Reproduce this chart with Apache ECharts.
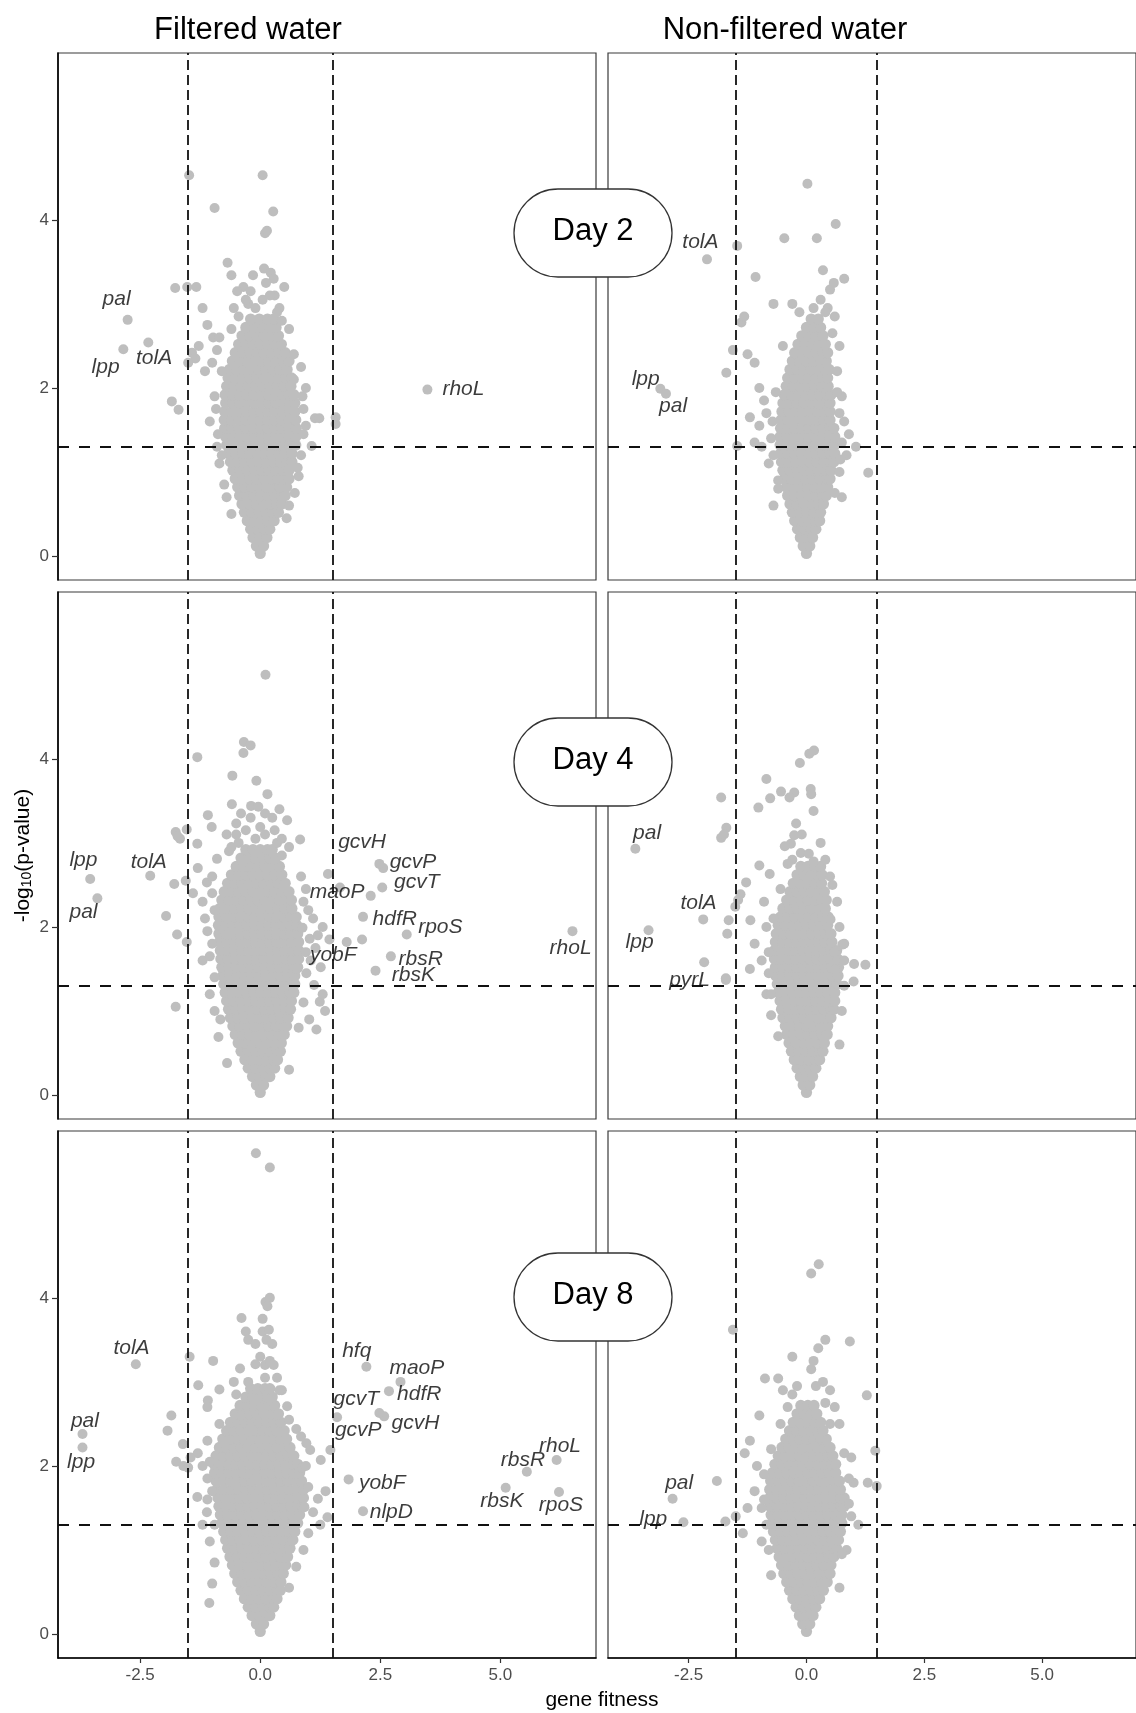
<!DOCTYPE html>
<html>
<head>
<meta charset="utf-8">
<title>gene fitness volcano plots</title>
<script src="https://cdn.jsdelivr.net/npm/echarts/dist/echarts.min.js"></script>
<style>
  html, body { margin: 0; padding: 0; background: #fff; }
  #main { width: 1136px; height: 1713px; }
</style>
</head>
<body>
<div id="main"></div>
<script>
// ---- data ----
const xTicks = [-2.5, 0, 2.5, 5];
const yTicks = [0, 2, 4];
const fitnessCut = 1.5;
const pCut = 1.301; // -log10(0.05)
const colTitles = ['Filtered water', 'Non-filtered water'];
const dayLabels = ['Day 2', 'Day 4', 'Day 8'];

// dense cloud, one row per -log10(p) level: [y, x, x, ...]
const f2Core = [
  [0.03, 0], [0.12, -0.08, 0.07], [0.22, -0.15, 0, 0.14], [0.32, -0.2, -0.06, 0.08, 0.2],
  [0.42, -0.27, -0.12, 0.02, 0.16, 0.29], [0.52, -0.33, -0.18, -0.03, 0.12, 0.26, 0.38],
  [0.62, -0.38, -0.23, -0.08, 0.07, 0.21, 0.35, 0.45], [0.72, -0.43, -0.28, -0.13, 0.02, 0.16, 0.3, 0.44, 0.52],
  [0.82, -0.47, -0.32, -0.17, -0.02, 0.13, 0.27, 0.41, 0.55], [0.92, -0.52, -0.37, -0.22, -0.07, 0.08, 0.23, 0.37, 0.5, 0.6],
  [1.02, -0.57, -0.42, -0.27, -0.12, 0.03, 0.18, 0.32, 0.46, 0.6], [1.12, -0.62, -0.47, -0.32, -0.17, -0.02, 0.13, 0.28, 0.42, 0.56, 0.66],
  [1.22, -0.66, -0.51, -0.36, -0.21, -0.06, 0.09, 0.24, 0.38, 0.52, 0.66], [1.32, -0.7, -0.55, -0.4, -0.25, -0.1, 0.05, 0.2, 0.34, 0.48, 0.62, 0.74],
  [1.42, -0.72, -0.57, -0.42, -0.27, -0.12, 0.03, 0.18, 0.32, 0.46, 0.6, 0.74], [1.52, -0.74, -0.59, -0.44, -0.29, -0.14, 0.01, 0.16, 0.3, 0.45, 0.6, 0.75],
  [1.62, -0.75, -0.6, -0.45, -0.3, -0.15, 0, 0.15, 0.3, 0.45, 0.6, 0.74], [1.72, -0.74, -0.59, -0.44, -0.29, -0.14, 0.01, 0.16, 0.31, 0.46, 0.61, 0.72],
  [1.82, -0.72, -0.57, -0.42, -0.27, -0.12, 0.03, 0.18, 0.33, 0.48, 0.62, 0.72], [1.92, -0.73, -0.58, -0.43, -0.28, -0.13, 0.02, 0.17, 0.32, 0.47, 0.6, 0.7],
  [2.02, -0.7, -0.55, -0.4, -0.25, -0.1, 0.05, 0.2, 0.35, 0.5, 0.64], [2.12, -0.67, -0.52, -0.37, -0.22, -0.07, 0.08, 0.23, 0.38, 0.53, 0.65],
  [2.22, -0.64, -0.49, -0.34, -0.19, -0.04, 0.11, 0.26, 0.41, 0.56], [2.32, -0.58, -0.43, -0.28, -0.13, 0.02, 0.17, 0.32, 0.47, 0.6],
  [2.42, -0.52, -0.37, -0.22, -0.07, 0.08, 0.23, 0.38, 0.52], [2.52, -0.45, -0.3, -0.15, 0, 0.15, 0.3, 0.44],
  [2.62, -0.38, -0.22, -0.07, 0.08, 0.23, 0.38], [2.72, -0.3, -0.12, 0.05, 0.2, 0.33], [2.82, -0.2, -0.02, 0.15, 0.28]
];
const f2Extra = [
  [-1.48, 4.53], [0.05, 4.53], [-0.95, 4.14], [0.27, 4.1], [0.1, 3.84], [0.14, 3.87], [-0.68, 3.49], [-0.6, 3.34],
  [-0.15, 3.34], [0.08, 3.42], [0.22, 3.37], [0.28, 3.3], [0.12, 3.25], [-0.35, 3.2], [-0.48, 3.15], [0.3, 3.1],
  [0.05, 3.05], [-0.25, 3.0], [-0.55, 2.95], [0.4, 2.95], [-1.77, 3.19], [-1.52, 3.2], [-1.33, 3.2], [-1.2, 2.95],
  [-1.1, 2.75], [-0.98, 2.6], [-1.42, 2.42], [-1.35, 2.35], [-1.28, 2.5], [-1.5, 2.3], [-1.15, 2.2], [-1.0, 2.3],
  [-0.9, 2.45], [-1.84, 1.84], [-1.7, 1.74], [-0.95, 1.9], [-1.05, 1.6], [-0.9, 1.3], [-0.85, 1.1], [1.14, 1.64],
  [1.23, 1.64], [1.57, 1.65], [1.57, 1.57], [1.07, 1.31], [0.9, 1.45], [0.85, 1.2], [0.8, 0.95], [0.72, 0.75],
  [0.9, 1.75], [0.95, 2.0], [0.7, 2.4], [0.6, 2.7], [-0.75, 0.85], [-0.6, 0.5], [0.55, 0.45],
  [-0.85, 2.6], [-0.8, 2.2], [-0.92, 1.75], [-0.88, 1.45], [-0.8, 1.2], [0.85, 2.25], [0.88, 1.9], [0.95, 1.55],
  [0.78, 1.05], [-0.7, 0.7], [0.6, 0.6], [-0.45, 2.85], [0.45, 2.8], [-0.3, 3.05], [0.2, 3.1], [-0.1, 2.95],
  [0.5, 3.2], [-0.6, 2.7], [0.7, 2.1], [-0.2, 3.15], [0.35, 2.9]
];
// [gene, x, y, labelX, labelY]
const f2Genes = [
  ['pal', -2.76, 2.81, -2.99, 3.06], ['lpp', -2.85, 2.46, -3.22, 2.25],
  ['tolA', -2.33, 2.54, -2.21, 2.35], ['rhoL', 3.48, 1.98, 4.23, 1.98]
];

const n2Core = [
  [0.03, 0], [0.12, -0.07, 0.07], [0.22, -0.13, 0, 0.13], [0.32, -0.19, -0.05, 0.09, 0.2],
  [0.42, -0.25, -0.1, 0.05, 0.2, 0.28], [0.52, -0.3, -0.15, 0, 0.15, 0.3], [0.62, -0.35, -0.2, -0.05, 0.1, 0.25, 0.36],
  [0.72, -0.4, -0.25, -0.1, 0.05, 0.2, 0.35, 0.42], [0.82, -0.43, -0.28, -0.13, 0.02, 0.17, 0.32, 0.45],
  [0.92, -0.47, -0.32, -0.17, -0.02, 0.13, 0.28, 0.43, 0.5], [1.02, -0.5, -0.35, -0.2, -0.05, 0.1, 0.25, 0.4, 0.52],
  [1.12, -0.53, -0.38, -0.23, -0.08, 0.07, 0.22, 0.37, 0.52, 0.58], [1.22, -0.55, -0.4, -0.25, -0.1, 0.05, 0.2, 0.35, 0.5, 0.6],
  [1.32, -0.56, -0.41, -0.26, -0.11, 0.04, 0.19, 0.34, 0.49, 0.6], [1.42, -0.56, -0.41, -0.26, -0.11, 0.04, 0.19, 0.34, 0.49, 0.6],
  [1.52, -0.55, -0.4, -0.25, -0.1, 0.05, 0.2, 0.35, 0.5, 0.58], [1.62, -0.54, -0.39, -0.24, -0.09, 0.06, 0.21, 0.36, 0.5],
  [1.72, -0.52, -0.37, -0.22, -0.07, 0.08, 0.23, 0.38, 0.5], [1.82, -0.5, -0.35, -0.2, -0.05, 0.1, 0.25, 0.4, 0.5],
  [1.92, -0.47, -0.32, -0.17, -0.02, 0.13, 0.28, 0.43, 0.52], [2.02, -0.43, -0.28, -0.13, 0.02, 0.17, 0.32, 0.46],
  [2.12, -0.4, -0.25, -0.1, 0.05, 0.2, 0.35, 0.45], [2.22, -0.35, -0.2, -0.05, 0.1, 0.25, 0.4, 0.48],
  [2.32, -0.3, -0.15, 0, 0.15, 0.3, 0.42], [2.42, -0.25, -0.1, 0.05, 0.2, 0.35, 0.45],
  [2.52, -0.18, -0.03, 0.12, 0.27, 0.4], [2.62, -0.1, 0.05, 0.2, 0.35], [2.72, 0, 0.15, 0.3], [2.82, 0.1, 0.25]
];
const n2Extra = [
  [0.02, 4.43], [0.22, 3.78], [0.62, 3.95], [0.5, 3.17], [0.58, 3.25], [-0.47, 3.78], [-1.08, 3.32], [-1.47, 3.69],
  [0.8, 3.3], [-0.7, 3.0], [-0.3, 3.0], [0.45, 2.95], [0.6, 2.85], [0.3, 3.05], [-1.7, 2.18], [-1.56, 2.45],
  [-1.38, 2.78], [-1.32, 2.85], [-1.25, 2.4], [-1.1, 2.3], [-1.0, 2.0], [-0.9, 1.85], [-0.85, 1.7], [-1.0, 1.55],
  [-1.2, 1.65], [-0.95, 1.3], [-0.8, 1.1], [-1.47, 1.31], [0.75, 1.9], [0.8, 1.6], [0.9, 1.45], [0.85, 1.2],
  [0.7, 1.0], [1.31, 0.99], [0.75, 0.7], [-0.7, 0.6], [-0.6, 0.9], [0.65, 2.2], [0.7, 2.5],
  [-0.75, 1.4], [-0.7, 1.2], [-0.72, 1.6], [0.75, 1.35], [0.72, 1.15], [0.7, 1.7], [-0.65, 1.95], [0.65, 1.95],
  [-1.1, 1.35], [1.05, 1.3], [-0.5, 2.5], [0.55, 2.65], [0.4, 2.9], [-0.15, 2.9], [0.15, 2.95], [0.35, 3.4],
  [-0.6, 0.8], [0.6, 0.75]
];
const n2Genes = [
  ['tolA', -2.11, 3.53, -2.25, 3.73], ['lpp', -3.1, 1.99, -3.41, 2.1], ['pal', -2.98, 1.93, -2.83, 1.78]
];

const f4Core = [
  [0.03, 0], [0.12, -0.08, 0.07], [0.22, -0.16, -0.02, 0.12, 0.2], [0.32, -0.25, -0.1, 0.05, 0.2, 0.3],
  [0.42, -0.32, -0.17, -0.02, 0.13, 0.28, 0.36], [0.52, -0.4, -0.25, -0.1, 0.05, 0.2, 0.35, 0.42],
  [0.62, -0.46, -0.31, -0.16, -0.01, 0.14, 0.29, 0.44], [0.72, -0.52, -0.37, -0.22, -0.07, 0.08, 0.23, 0.38, 0.5],
  [0.82, -0.57, -0.42, -0.27, -0.12, 0.03, 0.18, 0.33, 0.48, 0.55], [0.92, -0.62, -0.47, -0.32, -0.17, -0.02, 0.13, 0.28, 0.43, 0.58],
  [1.02, -0.66, -0.51, -0.36, -0.21, -0.06, 0.09, 0.24, 0.39, 0.54, 0.63], [1.12, -0.7, -0.55, -0.4, -0.25, -0.1, 0.05, 0.2, 0.35, 0.5, 0.65],
  [1.22, -0.73, -0.58, -0.43, -0.28, -0.13, 0.02, 0.17, 0.32, 0.47, 0.62, 0.7], [1.32, -0.76, -0.61, -0.46, -0.31, -0.16, -0.01, 0.14, 0.29, 0.44, 0.59, 0.72],
  [1.42, -0.78, -0.63, -0.48, -0.33, -0.18, -0.03, 0.12, 0.27, 0.42, 0.57, 0.72],
  [1.52, -0.8, -0.65, -0.5, -0.35, -0.2, -0.05, 0.1, 0.25, 0.4, 0.55, 0.7, 0.78],
  [1.62, -0.82, -0.67, -0.52, -0.37, -0.22, -0.07, 0.08, 0.23, 0.38, 0.53, 0.68, 0.8],
  [1.72, -0.83, -0.68, -0.53, -0.38, -0.23, -0.08, 0.07, 0.22, 0.37, 0.52, 0.67, 0.8],
  [1.82, -0.85, -0.7, -0.55, -0.4, -0.25, -0.1, 0.05, 0.2, 0.35, 0.5, 0.65, 0.8],
  [1.92, -0.86, -0.71, -0.56, -0.41, -0.26, -0.11, 0.04, 0.19, 0.34, 0.49, 0.64, 0.78],
  [2.02, -0.87, -0.72, -0.57, -0.42, -0.27, -0.12, 0.03, 0.18, 0.33, 0.48, 0.63, 0.76],
  [2.12, -0.86, -0.71, -0.56, -0.41, -0.26, -0.11, 0.04, 0.19, 0.34, 0.49, 0.64, 0.75],
  [2.22, -0.84, -0.69, -0.54, -0.39, -0.24, -0.09, 0.06, 0.21, 0.36, 0.51, 0.66],
  [2.32, -0.8, -0.65, -0.5, -0.35, -0.2, -0.05, 0.1, 0.25, 0.4, 0.55, 0.65],
  [2.42, -0.75, -0.6, -0.45, -0.3, -0.15, 0, 0.15, 0.3, 0.45, 0.6], [2.52, -0.68, -0.53, -0.38, -0.23, -0.08, 0.07, 0.22, 0.37, 0.52],
  [2.62, -0.6, -0.45, -0.3, -0.15, 0, 0.15, 0.3, 0.45], [2.72, -0.5, -0.35, -0.2, -0.05, 0.1, 0.25, 0.4],
  [2.82, -0.4, -0.25, -0.1, 0.05, 0.2, 0.32], [2.92, -0.3, -0.15, 0, 0.15, 0.25]
];
const f4Extra = [
  [0.11, 5.0], [-0.34, 4.2], [-0.2, 4.16], [-0.35, 4.07], [-1.31, 4.02], [-0.58, 3.8], [-0.08, 3.74], [0.15, 3.58],
  [-0.59, 3.46], [-0.19, 3.44], [-0.04, 3.43], [0.56, 3.27], [-0.5, 3.23], [0.0, 3.19], [0.83, 3.04], [0.25, 3.3],
  [-1.76, 3.13], [-1.67, 3.05], [-1.53, 3.16], [-1.31, 2.99], [-1.09, 3.33], [-1.01, 3.19], [-1.72, 3.08], [-0.9, 2.81],
  [-1.79, 2.51], [-1.96, 2.13], [-1.73, 1.91], [-1.53, 1.82], [-1.76, 1.05], [-1.11, 2.53], [-1.55, 2.55], [-1.2, 2.3],
  [-1.4, 2.4], [-1.3, 2.7], [-1.0, 2.6], [-1.15, 2.1], [-1.0, 1.8], [-1.2, 1.6], [-0.95, 1.4], [-1.05, 1.2],
  [-0.95, 1.0], [-0.69, 0.38], [-0.87, 0.69], [-0.83, 0.9], [1.24, 1.11], [1.17, 0.78], [1.02, 0.9], [1.26, 1.52],
  [1.12, 1.31], [0.96, 1.45], [0.76, 1.5], [1.03, 1.86], [0.88, 1.99], [0.95, 1.7], [0.9, 1.1], [0.8, 0.8],
  [0.6, 0.3], [0.9, 2.3], [1.0, 2.2], [0.85, 2.6], [-0.45, 3.0], [0.35, 3.0], [0.45, 2.85], [-0.65, 2.9],
  [2.56, 2.7], [1.66, 2.47], [1.8, 1.82], [2.12, 1.85],
  [-0.5, 3.1], [-0.3, 3.15], [-0.1, 3.05], [0.1, 3.1], [0.3, 3.15], [0.45, 3.05], [-0.6, 2.95], [0.6, 2.95],
  [-0.2, 3.3], [0.1, 3.35], [-0.4, 3.35], [0.4, 3.4], [-0.7, 3.1], [1.1, 2.1], [1.2, 1.9], [1.3, 2.0],
  [0.95, 2.45], [1.05, 1.6], [1.15, 1.75], [1.3, 1.2], [1.35, 1.0], [-1.0, 2.4], [-0.95, 2.2], [-1.1, 1.95], [-1.05, 1.65]
];
const f4Genes = [
  ['lpp', -3.54, 2.57, -3.68, 2.8], ['pal', -3.39, 2.34, -3.68, 2.18], ['tolA', -2.29, 2.61, -2.32, 2.77],
  ['gcvH', 1.41, 2.63, 2.12, 3.01], ['gcvP', 2.48, 2.75, 3.18, 2.77], ['gcvT', 2.54, 2.47, 3.26, 2.53],
  ['maoP', 2.3, 2.37, 1.6, 2.41], ['hdfR', 2.14, 2.12, 2.8, 2.09], ['rpoS', 3.05, 1.91, 3.75, 2.0],
  ['yobF', 1.44, 1.85, 1.52, 1.66], ['rbsR', 2.72, 1.65, 3.34, 1.62], ['rbsK', 2.4, 1.48, 3.19, 1.43],
  ['rhoL', 6.5, 1.95, 6.46, 1.75]
];

const n4Core = [
  [0.03, 0], [0.12, -0.07, 0.07], [0.22, -0.13, 0, 0.13], [0.32, -0.2, -0.06, 0.08, 0.2],
  [0.42, -0.26, -0.11, 0.04, 0.19, 0.28], [0.52, -0.32, -0.17, -0.02, 0.13, 0.28, 0.35],
  [0.62, -0.37, -0.22, -0.07, 0.08, 0.23, 0.38], [0.72, -0.42, -0.27, -0.12, 0.03, 0.18, 0.33, 0.44],
  [0.82, -0.45, -0.3, -0.15, 0, 0.15, 0.3, 0.45], [0.92, -0.5, -0.35, -0.2, -0.05, 0.1, 0.25, 0.4, 0.52],
  [1.02, -0.53, -0.38, -0.23, -0.08, 0.07, 0.22, 0.37, 0.52, 0.58], [1.12, -0.56, -0.41, -0.26, -0.11, 0.04, 0.19, 0.34, 0.49, 0.6],
  [1.22, -0.6, -0.45, -0.3, -0.15, 0, 0.15, 0.3, 0.45, 0.6], [1.32, -0.62, -0.47, -0.32, -0.17, -0.02, 0.13, 0.28, 0.43, 0.58, 0.65],
  [1.42, -0.65, -0.5, -0.35, -0.2, -0.05, 0.1, 0.25, 0.4, 0.55, 0.67], [1.52, -0.66, -0.51, -0.36, -0.21, -0.06, 0.09, 0.24, 0.39, 0.54, 0.68],
  [1.62, -0.68, -0.53, -0.38, -0.23, -0.08, 0.07, 0.22, 0.37, 0.52, 0.66], [1.72, -0.68, -0.53, -0.38, -0.23, -0.08, 0.07, 0.22, 0.37, 0.52, 0.64],
  [1.82, -0.66, -0.51, -0.36, -0.21, -0.06, 0.09, 0.24, 0.39, 0.54], [1.92, -0.64, -0.49, -0.34, -0.19, -0.04, 0.11, 0.26, 0.41, 0.52],
  [2.02, -0.6, -0.45, -0.3, -0.15, 0, 0.15, 0.3, 0.45], [2.12, -0.55, -0.4, -0.25, -0.1, 0.05, 0.2, 0.35, 0.46],
  [2.22, -0.5, -0.35, -0.2, -0.05, 0.1, 0.25, 0.4], [2.32, -0.42, -0.27, -0.12, 0.03, 0.18, 0.33, 0.42],
  [2.42, -0.35, -0.2, -0.05, 0.1, 0.25, 0.38], [2.52, -0.28, -0.13, 0.02, 0.17, 0.32],
  [2.62, -0.2, -0.05, 0.1, 0.25, 0.33], [2.72, -0.12, 0.03, 0.18, 0.3]
];
const n4Extra = [
  [0.16, 4.1], [0.06, 4.06], [-0.14, 3.95], [-0.85, 3.76], [-0.54, 3.61], [-0.26, 3.6], [-0.36, 3.54], [-0.77, 3.53],
  [0.09, 3.64], [0.1, 3.58], [-1.81, 3.54], [-1.02, 3.42], [0.15, 3.38], [-1.7, 3.18], [-1.81, 3.06], [-1.75, 3.1],
  [-0.22, 3.23], [-0.26, 3.09], [-0.33, 2.99], [-0.46, 2.96], [-0.12, 2.88], [0.05, 2.87], [-0.3, 2.8], [0.15, 2.78],
  [-1.0, 2.73], [-0.78, 2.63], [-1.28, 2.53], [-1.4, 2.39], [-1.45, 2.32], [-1.51, 2.24], [-1.65, 2.08], [-1.68, 1.92],
  [-2.17, 1.58], [-1.71, 1.39], [0.51, 2.09], [0.76, 1.79], [1.01, 1.56], [0.59, 1.7], [0.61, 1.49], [-1.19, 2.08],
  [-0.9, 2.3], [-1.1, 1.8], [-0.95, 1.6], [-1.2, 1.5], [-0.85, 1.2], [0.8, 1.3], [0.75, 1.0], [1.0, 1.35],
  [0.65, 2.3], [0.55, 2.5], [0.7, 0.6], [-0.6, 0.7], [-0.85, 2.0], [-0.75, 0.95], [1.25, 1.55],
  [-0.8, 1.7], [-0.8, 1.45], [-0.75, 1.2], [0.8, 1.6], [0.8, 1.8], [0.7, 2.0], [-0.7, 2.1], [-0.55, 2.45],
  [0.5, 2.6], [0.4, 2.8], [-0.4, 2.75], [0.3, 3.0], [-0.1, 3.1]
];
const n4Genes = [
  ['pal', -3.63, 2.93, -3.38, 3.11], ['tolA', -2.19, 2.09, -2.29, 2.28],
  ['lpp', -3.35, 1.96, -3.54, 1.82], ['pyrL', -1.71, 1.37, -2.48, 1.37]
];

const f8Core = [
  [0.03, 0], [0.12, -0.08, 0.07], [0.22, -0.17, -0.02, 0.13, 0.2], [0.32, -0.25, -0.1, 0.05, 0.2, 0.28],
  [0.42, -0.33, -0.18, -0.03, 0.12, 0.27, 0.35], [0.52, -0.4, -0.25, -0.1, 0.05, 0.2, 0.35, 0.42],
  [0.62, -0.47, -0.32, -0.17, -0.02, 0.13, 0.28, 0.43], [0.72, -0.53, -0.38, -0.23, -0.08, 0.07, 0.22, 0.37, 0.48],
  [0.82, -0.58, -0.43, -0.28, -0.13, 0.02, 0.17, 0.32, 0.47, 0.53], [0.92, -0.63, -0.48, -0.33, -0.18, -0.03, 0.12, 0.27, 0.42, 0.57],
  [1.02, -0.68, -0.53, -0.38, -0.23, -0.08, 0.07, 0.22, 0.37, 0.52, 0.62],
  [1.12, -0.72, -0.57, -0.42, -0.27, -0.12, 0.03, 0.18, 0.33, 0.48, 0.63, 0.68],
  [1.22, -0.76, -0.61, -0.46, -0.31, -0.16, -0.01, 0.14, 0.29, 0.44, 0.59, 0.72],
  [1.32, -0.8, -0.65, -0.5, -0.35, -0.2, -0.05, 0.1, 0.25, 0.4, 0.55, 0.7, 0.78],
  [1.42, -0.83, -0.68, -0.53, -0.38, -0.23, -0.08, 0.07, 0.22, 0.37, 0.52, 0.67, 0.82],
  [1.52, -0.86, -0.71, -0.56, -0.41, -0.26, -0.11, 0.04, 0.19, 0.34, 0.49, 0.64, 0.79, 0.88],
  [1.62, -0.88, -0.73, -0.58, -0.43, -0.28, -0.13, 0.02, 0.17, 0.32, 0.47, 0.62, 0.77, 0.9],
  [1.72, -0.9, -0.75, -0.6, -0.45, -0.3, -0.15, 0, 0.15, 0.3, 0.45, 0.6, 0.75, 0.9],
  [1.82, -0.92, -0.77, -0.62, -0.47, -0.32, -0.17, -0.02, 0.13, 0.28, 0.43, 0.58, 0.73, 0.86],
  [1.92, -0.95, -0.8, -0.65, -0.5, -0.35, -0.2, -0.05, 0.1, 0.25, 0.4, 0.55, 0.7, 0.82],
  [2.02, -0.96, -0.81, -0.66, -0.51, -0.36, -0.21, -0.06, 0.09, 0.24, 0.39, 0.54, 0.69, 0.78],
  [2.12, -0.92, -0.77, -0.62, -0.47, -0.32, -0.17, -0.02, 0.13, 0.28, 0.43, 0.58, 0.7],
  [2.22, -0.85, -0.7, -0.55, -0.4, -0.25, -0.1, 0.05, 0.2, 0.35, 0.5, 0.62],
  [2.32, -0.78, -0.63, -0.48, -0.33, -0.18, -0.03, 0.12, 0.27, 0.42, 0.55],
  [2.42, -0.7, -0.55, -0.4, -0.25, -0.1, 0.05, 0.2, 0.35, 0.5], [2.52, -0.62, -0.47, -0.32, -0.17, -0.02, 0.13, 0.28, 0.43],
  [2.62, -0.52, -0.37, -0.22, -0.07, 0.08, 0.23, 0.38], [2.72, -0.42, -0.27, -0.12, 0.03, 0.18, 0.3],
  [2.82, -0.3, -0.15, 0, 0.15, 0.25], [2.92, -0.2, -0.05, 0.1, 0.2]
];
const f8Extra = [
  [-0.09, 5.72], [0.2, 5.55], [0.11, 3.95], [0.2, 4.0], [0.15, 3.9], [-0.39, 3.76], [-0.3, 3.6], [-0.25, 3.5],
  [0.05, 3.6], [0.13, 3.5], [0.18, 3.62], [-0.42, 3.16], [-0.1, 3.21], [0.0, 3.3], [0.1, 3.2], [0.2, 3.25],
  [0.28, 3.2], [-1.47, 3.3], [-0.98, 3.25], [-1.29, 2.96], [-0.85, 2.91], [-1.09, 2.78], [-1.1, 2.7], [-1.85, 2.6],
  [-1.93, 2.42], [-1.61, 2.26], [-1.75, 2.05], [-1.6, 2.0], [-1.45, 2.1], [-1.5, 1.98], [-1.3, 2.15], [-1.2, 2.0],
  [-1.1, 1.85], [-1.31, 1.63], [-1.11, 1.45], [-1.0, 1.7], [-1.2, 1.3], [-1.05, 1.1], [-0.95, 0.85], [-1.0, 0.6],
  [-1.06, 0.37], [0.56, 2.71], [0.75, 2.44], [0.96, 2.27], [1.04, 2.19], [1.26, 2.07], [1.46, 2.19], [0.87, 1.98],
  [1.36, 1.7], [1.2, 1.61], [0.92, 1.51], [1.4, 1.39], [1.1, 1.45], [1.25, 1.3], [1.0, 1.2], [0.9, 1.0],
  [0.75, 0.8], [0.6, 0.55], [0.45, 2.9], [-0.55, 3.0], [0.35, 3.05],
  [-1.1, 2.3], [-1.05, 2.05], [-1.1, 1.6], [-0.95, 1.3], [1.0, 1.75], [0.95, 2.0], [0.85, 2.35], [-0.85, 2.5],
  [0.6, 2.55], [-0.5, 2.85], [0.4, 2.9], [-0.25, 3.0], [0.1, 3.05], [-0.1, 3.45], [0.05, 3.75], [0.25, 3.45]
];
const f8Genes = [
  ['tolA', -2.59, 3.21, -2.68, 3.4], ['pal', -3.7, 2.38, -3.65, 2.53], ['lpp', -3.7, 2.22, -3.73, 2.05],
  ['hfq', 2.21, 3.18, 2.01, 3.37], ['maoP', 2.92, 3.0, 3.26, 3.16], ['hdfR', 2.68, 2.89, 3.31, 2.86],
  ['gcvT', 1.6, 2.58, 2.0, 2.8], ['gcvH', 2.58, 2.59, 3.23, 2.51], ['gcvP', 2.48, 2.63, 2.04, 2.42],
  ['yobF', 1.84, 1.84, 2.54, 1.79], ['nlpD', 2.14, 1.46, 2.73, 1.45], ['rhoL', 6.17, 2.07, 6.24, 2.24],
  ['rbsR', 5.55, 1.93, 5.47, 2.07], ['rbsK', 5.11, 1.74, 5.03, 1.58], ['rpoS', 6.22, 1.69, 6.26, 1.53]
];

const n8Core = [
  [0.03, 0], [0.12, -0.08, 0.07], [0.22, -0.15, 0, 0.14], [0.32, -0.22, -0.07, 0.08, 0.2],
  [0.42, -0.29, -0.14, 0.01, 0.16, 0.28], [0.52, -0.36, -0.21, -0.06, 0.09, 0.24, 0.36],
  [0.62, -0.42, -0.27, -0.12, 0.03, 0.18, 0.33, 0.44], [0.72, -0.48, -0.33, -0.18, -0.03, 0.12, 0.27, 0.42, 0.5],
  [0.82, -0.53, -0.38, -0.23, -0.08, 0.07, 0.22, 0.37, 0.52], [0.92, -0.58, -0.43, -0.28, -0.13, 0.02, 0.17, 0.32, 0.47, 0.58],
  [1.02, -0.62, -0.47, -0.32, -0.17, -0.02, 0.13, 0.28, 0.43, 0.58, 0.64],
  [1.12, -0.66, -0.51, -0.36, -0.21, -0.06, 0.09, 0.24, 0.39, 0.54, 0.68],
  [1.22, -0.7, -0.55, -0.4, -0.25, -0.1, 0.05, 0.2, 0.35, 0.5, 0.65, 0.72],
  [1.32, -0.73, -0.58, -0.43, -0.28, -0.13, 0.02, 0.17, 0.32, 0.47, 0.62, 0.75],
  [1.42, -0.75, -0.6, -0.45, -0.3, -0.15, 0, 0.15, 0.3, 0.45, 0.6, 0.75],
  [1.52, -0.77, -0.62, -0.47, -0.32, -0.17, -0.02, 0.13, 0.28, 0.43, 0.58, 0.73, 0.8],
  [1.62, -0.78, -0.63, -0.48, -0.33, -0.18, -0.03, 0.12, 0.27, 0.42, 0.57, 0.72, 0.8],
  [1.72, -0.78, -0.63, -0.48, -0.33, -0.18, -0.03, 0.12, 0.27, 0.42, 0.57, 0.72],
  [1.82, -0.76, -0.61, -0.46, -0.31, -0.16, -0.01, 0.14, 0.29, 0.44, 0.59, 0.7],
  [1.92, -0.72, -0.57, -0.42, -0.27, -0.12, 0.03, 0.18, 0.33, 0.48, 0.62],
  [2.02, -0.67, -0.52, -0.37, -0.22, -0.07, 0.08, 0.23, 0.38, 0.53, 0.62],
  [2.12, -0.6, -0.45, -0.3, -0.15, 0, 0.15, 0.3, 0.45, 0.56], [2.22, -0.52, -0.37, -0.22, -0.07, 0.08, 0.23, 0.38, 0.5],
  [2.32, -0.44, -0.29, -0.14, 0.01, 0.16, 0.31, 0.42], [2.42, -0.36, -0.21, -0.06, 0.09, 0.24, 0.35],
  [2.52, -0.28, -0.13, 0.02, 0.17, 0.3], [2.62, -0.2, -0.05, 0.1, 0.22], [2.72, -0.12, 0.03, 0.16]
];
const n8Extra = [
  [0.1, 4.29], [0.26, 4.4], [-1.56, 3.62], [0.92, 3.48], [0.25, 3.4], [0.15, 3.25], [-0.88, 3.04], [-0.6, 3.04],
  [0.1, 3.15], [-0.2, 2.95], [0.35, 3.0], [0.5, 2.9], [1.28, 2.84], [1.46, 2.18], [1.49, 1.76], [1.3, 1.8],
  [-1.9, 1.82], [-1.72, 1.34], [-1.31, 2.15], [-1.2, 2.3], [-1.05, 2.0], [-1.1, 1.7], [-0.95, 1.5], [-1.25, 1.5],
  [-1.5, 1.4], [-1.35, 1.2], [-0.95, 1.1], [0.95, 2.1], [1.0, 1.8], [0.95, 1.4], [1.1, 1.3], [0.85, 1.0],
  [0.7, 2.5], [0.6, 2.7], [-0.4, 2.7], [-0.5, 2.9], [-0.75, 0.7], [0.7, 0.55], [-1.0, 2.6], [0.4, 3.5], [-0.3, 3.3],
  [-0.9, 1.6], [-0.9, 1.9], [-0.85, 1.3], [0.9, 1.55], [0.9, 1.85], [0.8, 2.15], [-0.75, 2.2], [-0.55, 2.5],
  [0.5, 2.5], [0.4, 2.75], [-0.3, 2.85], [0.2, 2.95], [-0.8, 1.0], [0.75, 0.95]
];
const n8Genes = [
  ['pal', -2.84, 1.61, -2.7, 1.79], ['lpp', -2.61, 1.33, -3.25, 1.37]
];

// ---- layout ----
const FONT = '"Liberation Sans", Arial, Helvetica, sans-serif';
const panels = [
  { core: f2Core, extra: f2Extra, genes: f2Genes },
  { core: n2Core, extra: n2Extra, genes: n2Genes },
  { core: f4Core, extra: f4Extra, genes: f4Genes },
  { core: n4Core, extra: n4Extra, genes: n4Genes },
  { core: f8Core, extra: f8Extra, genes: f8Genes },
  { core: n8Core, extra: n8Extra, genes: n8Genes }
];
const colLeft = [58, 608];
const rowTop = [53, 592, 1131];
const panelW = 538;
const panelH = 527;
const dayCenterY = [233, 762, 1297];

function rowsToPoints(rows) {
  const out = [];
  rows.forEach(r => {
    for (let i = 1; i < r.length; i++) out.push([r[i], r[0]]);
  });
  return out;
}

const chart = echarts.init(document.getElementById('main'));

const grids = [], xAxes = [], yAxes = [], series = [];
panels.forEach((p, i) => {
  const row = Math.floor(i / 2), col = i % 2;
  const bottom = row === 2, left = col === 0;
  grids.push({
    left: colLeft[col], top: rowTop[row], width: panelW, height: panelH,
    show: true, borderColor: '#3a3a3a', borderWidth: 1.2
  });
  xAxes.push({
    gridIndex: i, type: 'value', min: -4.21, max: 6.99,
    splitLine: { show: false },
    axisLine: { show: bottom, onZero: false, lineStyle: { color: '#000', width: 1.6 } },
    axisTick: { show: bottom, customValues: xTicks, length: 5, lineStyle: { color: '#333', width: 1.2 } },
    axisLabel: {
      show: bottom, customValues: xTicks, margin: 9, color: '#4d4d4d', fontSize: 17, fontFamily: FONT,
      formatter: v => Number(v).toFixed(1)
    }
  });
  const yAx = {
    gridIndex: i, type: 'value', min: -0.285, max: 5.985,
    splitLine: { show: false },
    axisLine: { show: left, onZero: false, lineStyle: { color: '#000', width: 1.6 } },
    axisTick: { show: left, customValues: yTicks, length: 6, lineStyle: { color: '#333', width: 1.2 } },
    axisLabel: { show: left, customValues: yTicks, margin: 9, color: '#4d4d4d', fontSize: 17, fontFamily: FONT }
  };
  if (i === 2) {
    yAx.name = '-log{s|10}(p-value)';
    yAx.nameLocation = 'middle';
    yAx.nameRotate = 90;
    yAx.nameGap = 24;
    yAx.nameTextStyle = {
      color: '#000', fontSize: 21, fontFamily: FONT,
      rich: { s: { fontSize: 14, fontFamily: FONT, color: '#000', verticalAlign: 'bottom', padding: [6, 0, 0, 0] } }
    };
  }
  yAxes.push(yAx);

  // dense cloud (slightly larger marks so the overlapping cloud reads solid)
  series.push({
    type: 'scatter', xAxisIndex: i, yAxisIndex: i,
    data: rowsToPoints(p.core),
    symbolSize: 11.2, itemStyle: { color: '#BEBEBE', opacity: 1 },
    silent: true, z: 2
  });
  series.push({
    type: 'scatter', xAxisIndex: i, yAxisIndex: i,
    data: p.extra.concat(p.genes.map(g => [g[1], g[2]])),
    symbolSize: 10, itemStyle: { color: '#BEBEBE', opacity: 1 },
    silent: true, z: 2,
    markLine: {
      silent: true, symbol: ['none', 'none'], label: { show: false },
      lineStyle: { color: '#111', width: 1.8 },
      data: [
        { xAxis: -fitnessCut, lineStyle: { type: [10, 5] } },
        { xAxis: fitnessCut, lineStyle: { type: [10, 5] } },
        { yAxis: pCut, lineStyle: { type: [11, 10] } }
      ]
    }
  });
  series.push({
    type: 'scatter', xAxisIndex: i, yAxisIndex: i,
    data: p.genes.map(g => [g[3], g[4], g[0]]),
    symbolSize: 0.01, itemStyle: { color: 'rgba(0,0,0,0)' },
    silent: true, z: 6,
    label: {
      show: true, position: 'inside', formatter: q => q.data[2],
      fontStyle: 'italic', fontSize: 21, fontFamily: FONT, color: '#0a0a0a'
    }
  });
});

const graphics = [];
colTitles.forEach((t, c) => {
  graphics.push({
    type: 'text', x: [248, 785][c], y: 30, z: 10,
    style: { text: t, fontSize: 31, fontFamily: FONT, fill: '#000', align: 'center', verticalAlign: 'middle' }
  });
});
graphics.push({
  type: 'text', x: 602, y: 1700, z: 10,
  style: { text: 'gene fitness', fontSize: 21, fontFamily: FONT, fill: '#000', align: 'center', verticalAlign: 'middle' }
});
dayLabels.forEach((d, r) => {
  const cy = dayCenterY[r];
  graphics.push({
    type: 'rect', z: 20,
    shape: { x: 514, y: cy - 44, width: 158, height: 88, r: 44 },
    style: { fill: '#fff', stroke: '#333', lineWidth: 1.3 }
  });
  graphics.push({
    type: 'text', x: 593, y: cy - 2, z: 21,
    style: { text: d, fontSize: 31, fontFamily: FONT, fill: '#000', align: 'center', verticalAlign: 'middle' }
  });
});

chart.setOption({
  animation: false,
  backgroundColor: '#fff',
  grid: grids,
  xAxis: xAxes,
  yAxis: yAxes,
  series: series,
  graphic: graphics
});
</script>
</body>
</html>
